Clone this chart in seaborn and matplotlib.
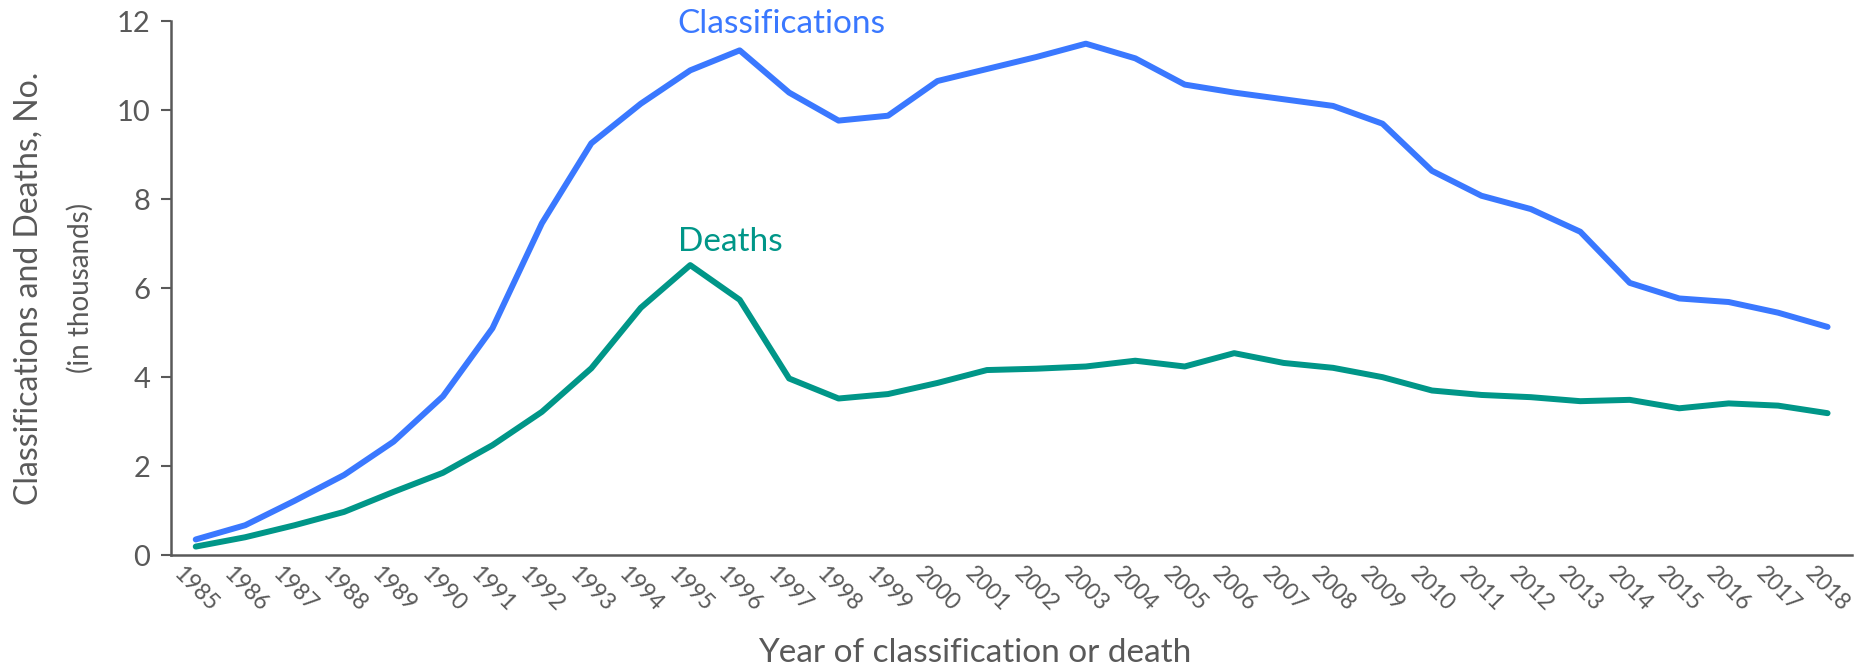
import numpy as np
import pandas as pd
import matplotlib
matplotlib.use('Agg')
import matplotlib.pyplot as plt
import seaborn as sns

# ── Data (in thousands) ─────────────────────────────────────
years = list(range(1985, 2019))
classifications = [0.35, 0.67, 1.22, 1.80, 2.55, 3.57, 5.10, 7.46, 9.26, 10.15,
                   10.90, 11.35, 10.40, 9.77, 9.88, 10.66, 10.93, 11.20, 11.50, 11.17,
                   10.58, 10.40, 10.25, 10.10, 9.70, 8.64, 8.08, 7.78, 7.27, 6.12,
                   5.77, 5.69, 5.45, 5.13]
deaths = [0.19, 0.40, 0.67, 0.97, 1.42, 1.85, 2.47, 3.22, 4.20, 5.56,
          6.52, 5.74, 3.97, 3.52, 3.62, 3.87, 4.16, 4.19, 4.24, 4.37,
          4.24, 4.54, 4.32, 4.21, 4.00, 3.70, 3.60, 3.55, 3.46, 3.49,
          3.30, 3.41, 3.36, 3.19]

df = pd.DataFrame({'pos': np.arange(len(years)),
                   'Classifications': classifications,
                   'Deaths': deaths})

blue = '#3a78ff'
teal = '#009688'
grey = '#595959'

sns.set_style('white')
plt.rcParams['font.family'] = ['Lato', 'DejaVu Sans']

fig = plt.figure(figsize=(18.71, 6.70), dpi=100)
ax = fig.add_axes([0.0914, 0.1716, 0.8986, 0.7964])

sns.lineplot(data=df, x='pos', y='Classifications', color=blue, linewidth=4.3, ax=ax)
sns.lineplot(data=df, x='pos', y='Deaths', color=teal, linewidth=4.3, ax=ax)

# series labels
ax.text(9.75, 11.95, 'Classifications', color=blue, fontsize=24, ha='left', va='center')
ax.text(9.75, 7.03, 'Deaths', color=teal, fontsize=24, ha='left', va='center')

# axes
ax.set_xlim(-0.5, len(years) - 0.5)
ax.set_ylim(0, 12)
ax.set_yticks(range(0, 13, 2))
ax.set_xticks(np.arange(len(years)))
ax.set_xticklabels([str(y) for y in years], rotation=-45, ha='center', va='top')
ax.set_xticks(np.arange(len(years) + 1) - 0.5, minor=True)
ax.tick_params(axis='x', which='major', length=0, labelsize=16.5, labelcolor=grey, pad=6)
ax.tick_params(axis='x', which='minor', length=7, width=1.5, color=grey, direction='out')
ax.tick_params(axis='y', length=7, width=1.5, color=grey, direction='out',
               labelsize=21, labelcolor=grey, pad=8, left=True)

for side in ['top', 'right']:
    ax.spines[side].set_visible(False)
for side in ['left', 'bottom']:
    ax.spines[side].set_color(grey)
    ax.spines[side].set_linewidth(1.8)

ax.set_xlabel('')
ax.set_ylabel('')
fig.text(0.521, 0.026, 'Year of classification or death', fontsize=24,
         color=grey, ha='center', va='center')
fig.text(0.007, 0.57, 'Classifications and Deaths, No.', rotation=90, fontsize=23,
         color=grey, ha='left', va='center')
fig.text(0.036, 0.57, '(in thousands)', rotation=90, fontsize=20,
         color=grey, ha='left', va='center')

plt.savefig('out.png', dpi=100)
